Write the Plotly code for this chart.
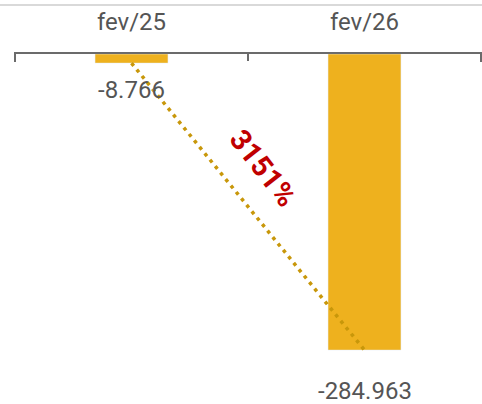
import plotly.graph_objects as go

categories = ["fev/25", "fev/26"]
values = [-8.766, -284.963]
value_labels = ["-8.766", "-284.963"]
change_label = "3151%"

# label offsets below bar ends (pixels)
label_shifts = [-27, -41]

bar_color = "#EEB11E"
line_color = "#C8970A"
text_color = "#555555"
axis_color = "#6B6B6B"

fig = go.Figure()
fig.add_trace(go.Bar(x=categories, y=values, marker_color=bar_color, width=0.313,
                     hoverinfo="skip"))
fig.add_trace(go.Scatter(x=categories, y=values, mode="lines",
                         line=dict(color=line_color, width=3.5, dash="3.5px,4.8px"),
                         hoverinfo="skip"))

for c, v, t, s in zip(categories, values, value_labels, label_shifts):
    fig.add_annotation(x=c, y=v, text=t, showarrow=False, yshift=s,
                       font=dict(size=24, color=text_color, family="Roboto"))

fig.add_annotation(x=0.565, y=-110, text="<b>" + change_label + "</b>", showarrow=False,
                   textangle=52, font=dict(size=29, color="#C00000", family="Roboto"))

# thin light rule at the very top
fig.add_shape(type="line", xref="paper", yref="paper", x0=-0.05, x1=1.05,
              y0=1 + 49 / 346, y1=1 + 49 / 346, line=dict(color="#D9D9D9", width=2),
              layer="above")
# end ticks on category boundaries
for xb in (-0.5, 1.5):
    fig.add_shape(type="line", xref="x", yref="paper", x0=xb, x1=xb,
                  y0=1, y1=1 - 8 / 346, line=dict(color=axis_color, width=2))

fig.update_layout(
    width=482, height=404,
    margin=dict(l=14, r=0, t=54, b=4, autoexpand=False),
    paper_bgcolor="white", plot_bgcolor="white",
    showlegend=False,
    font=dict(family="Roboto", color=text_color),
    xaxis=dict(side="top", showline=True, linecolor=axis_color, linewidth=2,
               ticks="inside", tickson="boundaries", ticklen=7, tickwidth=2,
               tickcolor=axis_color, tickfont=dict(size=24, color=text_color),
               ticklabelstandoff=12, showgrid=False, automargin=False,
               range=[-0.5043, 1.5043]),
    yaxis=dict(visible=False, range=[-333, 0], showgrid=False, zeroline=False),
)

fig.write_html("out.html", config={"displayModeBar": False},
               post_script="document.body.style.margin='0px';document.body.style.overflow='hidden';")
